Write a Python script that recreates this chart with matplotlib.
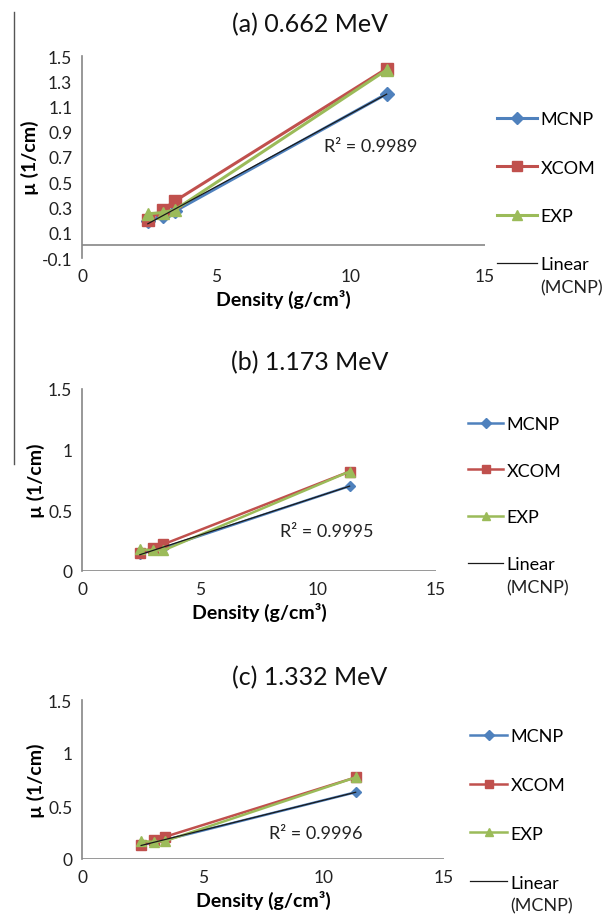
import numpy as np
import matplotlib
matplotlib.use("Agg")
import matplotlib.pyplot as plt
from matplotlib.lines import Line2D

plt.rcParams['font.family'] = ['Lato', 'DejaVu Sans']

# densities (g/cm3) of the four samples
density = [2.45, 3.0, 3.45, 11.34]

titles = ['(a) 0.662 MeV', '(b) 1.173 MeV', '(c) 1.332 MeV']

mcnp = [[0.19, 0.23, 0.27, 1.20],
        [0.14, 0.17, 0.19, 0.70],
        [0.13, 0.16, 0.18, 0.63]]
xcom = [[0.20, 0.28, 0.35, 1.40],
        [0.15, 0.19, 0.22, 0.82],
        [0.13, 0.18, 0.21, 0.77]]
exp_ = [[0.25, 0.26, 0.28, 1.39],
        [0.18, 0.17, 0.17, 0.82],
        [0.17, 0.16, 0.17, 0.77]]

r2_values = [0.9989, 0.9995, 0.9996]
r2_pos = [(9.0, 0.79), (8.4, 0.33), (7.75, 0.245)]

y_limits = [(-0.1, 1.5), (0, 1.5), (0, 1.5)]
y_ticks = [[-0.1, 0.1, 0.3, 0.5, 0.7, 0.9, 1.1, 1.3, 1.5],
           [0, 0.5, 1, 1.5],
           [0, 0.5, 1, 1.5]]
y_ticklabels = [['-0.1', '0.1', '0.3', '0.5', '0.7', '0.9', '1.1', '1.3', '1.5'],
                ['0', '0.5', '1', '1.5'],
                ['0', '0.5', '1', '1.5']]
x_ticks = [0, 5, 10, 15]

BLUE = '#4F81BD'
RED = '#C0504D'
GREEN = '#9BBB59'
AXIS = '#868686'

W, H = 613, 920
fig = plt.figure(figsize=(W / 100, H / 100), dpi=100)

# axes boxes in pixels: left, right(x=15), top(ymax), bottom(ymin)
boxes = [(82, 485, 57, 259), (82, 436, 390, 572), (82, 444, 701, 860)]
title_y = [25, 363, 678]
legend_pos = [(497, 112), (468, 417), (470, 729)]
legend_w = [40, 35, 37]
legend_gap = [1.8, 1.7, 1.82]

for i in range(3):
    l, r, t, b = boxes[i]
    ax = fig.add_axes([l / W, 1 - b / H, (r - l) / W, (b - t) / H])
    ms = 8 if i == 0 else 6.5
    lw = 2.2 if i == 0 else 1.8
    ax.plot(density, mcnp[i], color=BLUE, marker='D', ms=ms - 1, lw=lw, label='MCNP')
    ax.plot(density, xcom[i], color=RED, marker='s', ms=ms, lw=lw, label='XCOM')
    ax.plot(density, exp_[i], color=GREEN, marker='^', ms=ms, lw=lw, label='EXP')
    k, c = np.polyfit(density, mcnp[i], 1)
    xs = np.array([min(density), max(density)])
    ax.plot(xs, k * xs + c, color='#1a1a1a', lw=0.9, label='Linear')

    ax.text(r2_pos[i][0], r2_pos[i][1], f'R² = {r2_values[i]:.4f}',
            fontsize=13, ha='left', va='center', color='#222222')

    ax.set_xlim(0, 15)
    ax.set_ylim(*y_limits[i])
    ax.set_xticks(x_ticks)
    ax.set_yticks(y_ticks[i])
    ax.set_yticklabels(y_ticklabels[i])
    ax.tick_params(length=0, labelsize=12.5, colors='#222222')
    ax.tick_params(axis='x', pad=7)
    ax.tick_params(axis='y', pad=7)
    for s in ['top', 'right', 'bottom']:
        ax.spines[s].set_visible(False)
    ax.spines['left'].set_color(AXIS)
    ax.spines['left'].set_linewidth(1.2)
    ax.axhline(0, color=AXIS, lw=1.2)

    ax.set_xlabel('Density (g/cm³)', fontsize=14, fontweight='bold', labelpad=4)
    ax.set_ylabel('µ (1/cm)', fontsize=14, fontweight='bold', labelpad=2)

    fig.text(310 / W, 1 - title_y[i] / H, titles[i], fontsize=18,
             ha='center', va='center', color='#111111')

    lx, ly = legend_pos[i]
    handles, labels = ax.get_legend_handles_labels()
    leg = fig.legend(handles, labels, loc='upper left',
                     bbox_to_anchor=(lx / W, 1 - ly / H), frameon=False,
                     fontsize=13, borderpad=0, borderaxespad=0,
                     handlelength=legend_w[i] / 18, handletextpad=0.2,
                     labelspacing=legend_gap[i], markerscale=0.85)
    # second line of the trend-line label sits under "Linear"
    fig.canvas.draw()
    bb = leg.get_texts()[-1].get_window_extent()
    fig.text(bb.x0 / W, (bb.y0 - 7) / H, '(MCNP)', fontsize=13,
             ha='left', va='top', color='#222222')

# stray vertical border on the left of the source image
fig.add_artist(Line2D([14 / W, 14 / W], [1 - 13 / H, 1 - 465 / H],
                      color='#555555', lw=1.0))

fig.savefig('out.png', dpi=100)
